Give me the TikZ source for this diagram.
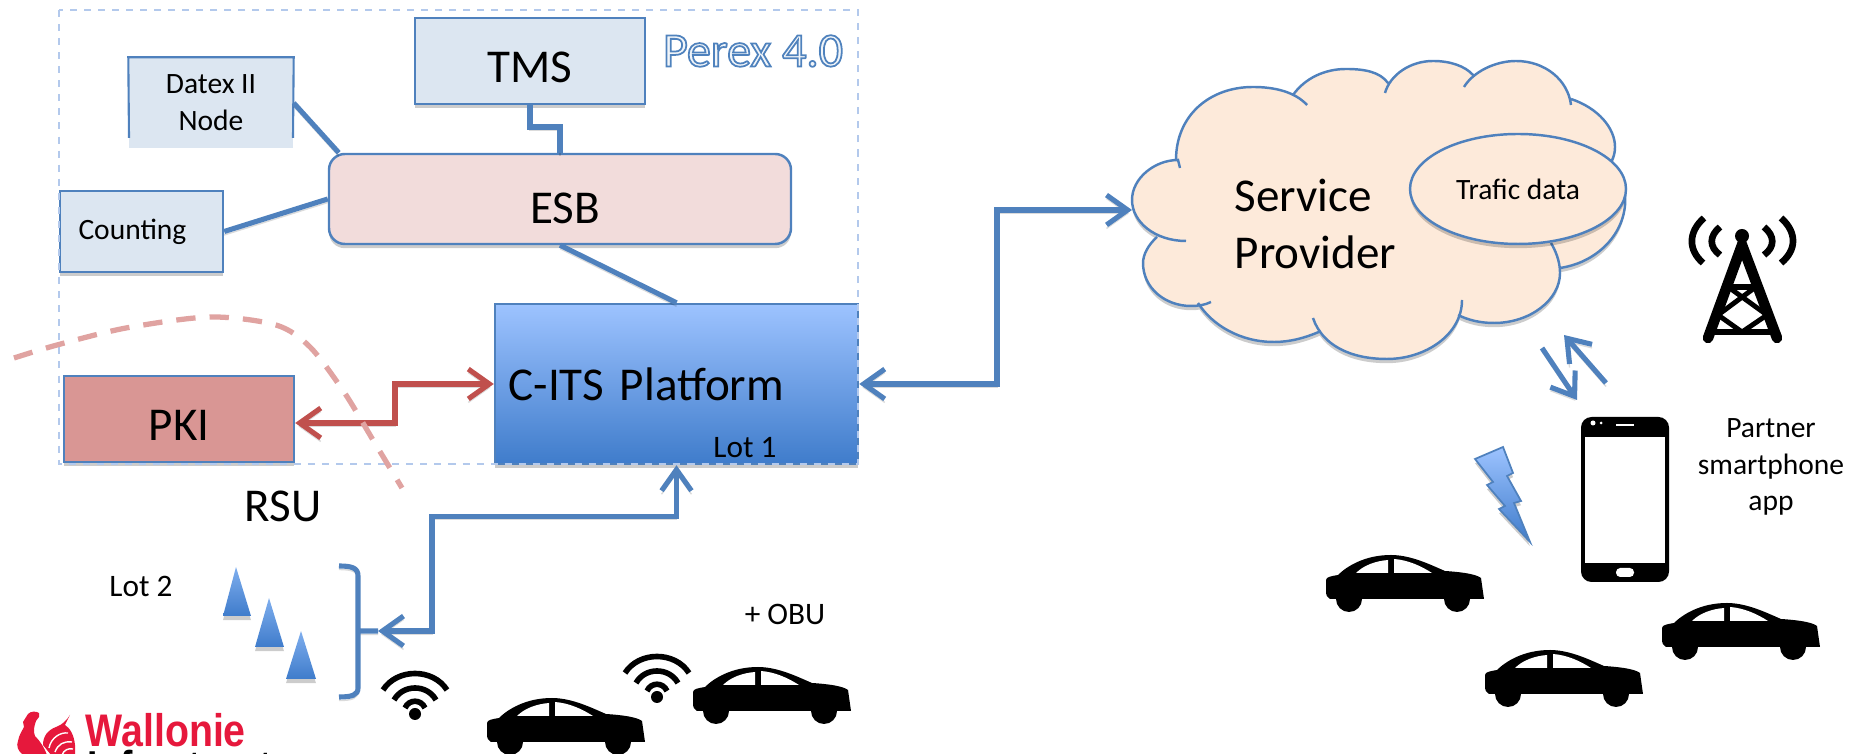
\documentclass[tikz,border=0pt]{standalone}
\usepackage{fontspec}
\setmainfont{Carlito}
\newfontfamily\logofont[FakeStretch=0.86]{Liberation Sans}
\usetikzlibrary{arrows.meta,shapes.geometric,shadows}

\definecolor{lineblue}{HTML}{4F81BD}
\definecolor{boxblue}{HTML}{DCE6F1}
\definecolor{boxpink}{HTML}{F2DCDB}
\definecolor{boxred}{HTML}{D99694}
\definecolor{linered}{HTML}{C0504D}
\definecolor{dashred}{HTML}{E0A3A1}
\definecolor{dashblue}{HTML}{B3C9EC}
\definecolor{cloudfill}{HTML}{FDEADA}
\definecolor{gradtop}{HTML}{9DC3FF}
\definecolor{gradbot}{HTML}{3F7CCB}
\definecolor{conetop}{HTML}{7FAEEE}
\definecolor{logored}{HTML}{E6183C}

\tikzset{
  softshadow/.style={drop shadow={shadow xshift=0pt,shadow yshift=-1.2pt,opacity=.2,fill=black}},
  lineshadow/.style={preaction={draw=black,draw opacity=.14,transform canvas={yshift=-1pt}}},
  bigtxt/.style={font=\fontsize{13.4}{16.2}\selectfont},
  smalltxt/.style={font=\fontsize{8.4}{9.8}\selectfont},
  lottxt/.style={font=\fontsize{8.9}{10}\selectfont},
  box/.style={draw=lineblue,line width=0.7pt,softshadow},
  conn/.style={draw=lineblue,line width=1.45pt,lineshadow,>={Straight Barb[length=6pt,width=8.5pt]}},
  connred/.style={conn,draw=linered},
  cone/.style={top color=conetop,bottom color=gradbot,draw=none,softshadow},
  wifiline/.style={line width=1.6pt},
  car/.pic={
    \fill (0,25) .. controls (0,22) and (6,21) .. (12,20) .. controls (20,12) and (38,0) .. (65,0) .. controls (85,0) and (105,10) .. (119,16) .. controls (135,17) and (150,19) .. (155,23) -- (158,44) -- (4,44) .. controls (1,43) and (0,40) .. (0,36) -- cycle;
    \fill (23,44) circle (13);
    \fill (131,44) circle (13);
    \fill [white] (30,18) .. controls (38,10) and (50,6) .. (62,5) -- (62,18) -- cycle;%front window
    \fill [white] (68,18) -- (68,4) .. controls (82,5) and (95,11) .. (106,18) -- cycle;%rear window
  },
  wifi/.pic={
    \fill (0,0) circle (6);
    \draw [wifiline] (-32,-24) .. controls (-18,-46) and (18,-46) .. (32,-24);
    \draw [wifiline] (-21,-14) .. controls (-12,-30) and (12,-30) .. (21,-14);
    \draw [wifiline] (-10,-6) .. controls (-6,-15) and (6,-15) .. (10,-6);
  }
}

\newcommand{\cloudpath}[1]{
  (1186,241) .. controls (1155,241) and (1132,222) .. (1132,200) .. controls (1132,178) and (1155,160) .. (1178,160) -- (1180,168) #1
  (1176,160) .. controls (1176,115) and (1210,87) .. (1253,87) .. controls (1275,87) and (1295,92) .. (1307,105) #1
  (1293,95) .. controls (1305,78) and (1325,69) .. (1346,69) .. controls (1365,69) and (1380,72) .. (1388,83) #1
  (1385,93) .. controls (1390,75) and (1410,61) .. (1433,61) .. controls (1450,61) and (1465,66) .. (1473,75) #1
  (1464,87) .. controls (1473,72) and (1495,61) .. (1516,61) .. controls (1545,61) and (1568,80) .. (1571,105) #1
  (1571,99) .. controls (1598,108) and (1615,128) .. (1615,147) .. controls (1615,152) and (1614,157) .. (1611,162) #1
  (1625,195) .. controls (1628,230) and (1600,262) .. (1560,268) #1
  (1551,243) .. controls (1558,255) and (1560,265) .. (1560,273) .. controls (1560,300) and (1530,323) .. (1494,323) .. controls (1480,323) and (1468,320) .. (1458,315) #1
  (1462,300) .. controls (1462,335) and (1425,359) .. (1387,359) .. controls (1350,359) and (1322,345) .. (1313,318) #1
  (1321,331) .. controls (1305,338) and (1290,342) .. (1274,342) .. controls (1240,342) and (1212,325) .. (1198,303) #1
  (1211,302) .. controls (1205,305) and (1198,306) .. (1191,306) .. controls (1165,306) and (1143,288) .. (1143,263) .. controls (1143,255) and (1148,245) .. (1157,237)
}

\begin{document}
\begin{tikzpicture}[x=0.1mm,y=-0.1mm]
\useasboundingbox (0,0) rectangle (1849,754);

\node [box,fill=boxblue,bigtxt,minimum width=2.30cm,minimum height=0.86cm,text height=12pt,text depth=0pt] (tms) at (530,61) {TMS};
\node [fill=boxblue,smalltxt,align=center,minimum width=1.64cm,minimum height=0.90cm,inner sep=0pt,yshift=-0.1mm] (datex) at (211,102) {Datex II\\[0.8pt]Node};
\draw [draw=lineblue,line width=0.6pt] (129,138)--(datex.north west)--(datex.north east)--(293,138);%open box
\node [box,fill=boxblue,smalltxt,minimum width=1.63cm,minimum height=0.81cm,text width=1.26cm,align=left] (counting) at (141.5,231.5) {Counting};
\node [box,fill=boxpink,bigtxt,rounded corners=4.5pt,minimum width=4.62cm,minimum height=0.90cm,text height=13.7pt,text depth=0pt] (esb) at (560,199) {\hspace*{2.8pt}ESB};
\node [box,top color=gradtop,bottom color=gradbot,bigtxt,minimum width=3.63cm,minimum height=1.60cm,text width=3.36cm,align=left] (cits) at (676.5,384) {C-ITS Platform};
\node [box,fill=boxred,bigtxt,minimum width=2.30cm,minimum height=0.86cm,text height=12pt,text depth=0pt] (pki) at (179,419) {PKI};
\node [lottxt] (lotone) at (745,448) {Lot 1};
\draw [dashblue,line width=0.7pt,dash pattern=on 2pt off 2pt] (59,10) rectangle (858,464);%Perex
\node [bigtxt,text=boxblue!40,font=\fontsize{13.7}{16}\selectfont] (perex) at (753,51) {\special{pdf:code 0.31 0.51 0.74 RG 2 Tr 0.5 w}Perex 4.0\special{pdf:code 0 Tr}};

\draw [conn] (tms.south)--(530,127)-|(esb.north);
\draw [conn] (datex.east)--([xshift=1.1mm]esb.north west);
\draw [conn] (counting.east)--(esb.west);
\draw [conn] (esb.south)--(cits.north);
\draw [connred,<->] (cits.west)-|(395,423)--(pki.east |- 395,423);

\draw [dashred,line width=1.5pt,dash pattern=on 5.5pt off 4pt] plot[smooth] coordinates {(14,358) (57,345) (126,328) (210,317) (276,325) (310,347) (344,392) (373,440) (402,488)};

\node [bigtxt] (rsu) at (283,506) {RSU};
\node [lottxt] (lottwo) at (141,586) {Lot 2};
\node [lottxt] (obu) at (785,614) {+ OBU};

\draw [cone] (236,567)--(223,616)--(251,616)--cycle;
\draw [cone] (269,598)--(255,647)--(284,647)--cycle;
\draw [cone] (301,631)--(286,679)--(316,679)--cycle;

\coordinate (brk) at (378,631);
\draw [conn] (339,566) .. controls (352,566) and (358,568) .. (358,576)--(358,631)--(brk)--(358,631)--(358,688) .. controls (358,695) and (352,697) .. (339,697);%bracket
\draw [conn,<->] (cits.south)--++(0,51)-|(432,631)--(brk);

\pic (wifia) at (415,714) {wifi};
\pic (wifib) at (657,697) {wifi};
\pic (cara) at (487,698) {car};
\pic (carb) at (693,667) {car};
\pic (carc) at (1326,555) {car};
\pic (card) at (1485,650) {car};
\pic (care) at (1662,603) {car};

%cloud
\fill [cloudfill,softshadow] \cloudpath{--} --cycle;
\draw [lineblue,line width=0.7pt] \cloudpath{};
\node [draw=lineblue,line width=0.7pt,fill=cloudfill,softshadow,ellipse,smalltxt,minimum width=2.16cm,minimum height=1.10cm,inner sep=0pt] (trafic) at (1518,189) {Trafic data};
\node [bigtxt,align=left,anchor=west,inner sep=0pt] (service) at (1234,224) {Service\\Provider};
\coordinate (cloudw) at (1132,210);
\draw [conn,<->] (cits.east)-|(997,210)--(cloudw);

%tower
\fill (1742,236) circle (7);
\draw [line width=3pt,line cap=round] (1708,338)--(1742,245)--(1777,338);
\draw [line width=1.6pt] (1725,287)--(1760,287);
\draw [line width=1.6pt] (1711,332)--(1774,332);
\draw [line width=1.4pt] (1718,315)--(1753,289);
\draw [line width=1.4pt] (1767,315)--(1731,289);
\draw [line width=1.4pt] (1718,315)--(1742,332)--(1767,315);
\draw [wifiline,line width=1.9pt] (1720,227) .. controls (1709,236) and (1709,247) .. (1720,255);
\draw [wifiline,line width=1.9pt] (1764,227) .. controls (1775,236) and (1775,247) .. (1764,255);
\draw [wifiline,line width=1.9pt] (1704,218) .. controls (1688,232) and (1688,250) .. (1703,263);
\draw [wifiline,line width=1.9pt] (1781,218) .. controls (1797,232) and (1797,250) .. (1781,263);

%phone
\coordinate (uplinka) at (1606,383);
\coordinate (uplinkb) at (1564,335);
\coordinate (downa) at (1542,348);
\coordinate (downb) at (1577,400);
\draw [conn,->] (uplinka)--(uplinkb);
\draw [conn,->] (downa)--(downb);
\fill [rounded corners=3pt] (1581,417) rectangle (1669,582);
\fill [white] (1585,437) rectangle (1665,563);
\fill [white] (1593,423) circle (2.5);
\fill [white] (1601,423) circle (1.5);
\fill [white] (1616,424) rectangle (1634,426);
\fill [white,rounded corners=1.2pt] (1616,568) rectangle (1634,577);
\node [smalltxt,align=center,inner sep=0pt,font=\fontsize{8.4}{10.3}\selectfont] (partner) at (1771,467) {Partner\\smartphone\\app};

\draw [draw=lineblue,line width=0.5pt,top color=gradtop,bottom color=gradbot,softshadow] (1475,459)--(1503,447)--(1513,473)--(1507,476)--(1521,501)--(1514,503)--(1530,542)--(1499,509)--(1505,506)--(1487,485)--(1493,482)--cycle;%bolt

%logo
\fill [logored] (28,714) .. controls (31,711) and (36,711) .. (39,713) -- (39,717) -- (36,721) .. controls (34,727) and (33,731) .. (35,736) .. controls (40,741) and (44,747) .. (47,755) -- (23,755) .. controls (18,751) and (16,746) .. (18,741) .. controls (19,735) and (22,731) .. (24,727) -- (23,722) -- cycle;
\fill [logored] (43,745) .. controls (43,736) and (48,730) .. (56,727) .. controls (62,725) and (67,720) .. (70,715) -- (65,725) .. controls (70,728) and (74,735) .. (75,745) -- (75,755) -- (51,755) -- cycle;
\draw [white,line width=0.4pt] (49,748) .. controls (51,738) and (60,732) .. (68,733);
\draw [white,line width=0.4pt] (55,752) .. controls (58,744) and (64,741) .. (72,742);
\draw [white,line width=0.4pt] (62,755) .. controls (64,750) and (68,748) .. (73,749);
\node [anchor=base west,inner sep=0pt,text=logored,font=\logofont\bfseries\fontsize{13}{14}\selectfont] (wallonie) at (85,747) {Wallonie};
\node [anchor=base west,inner sep=0pt,font=\logofont\bfseries\fontsize{12.3}{14}\selectfont] (infra) at (87,782) {Infrastructures};

\end{tikzpicture}
\end{document}
